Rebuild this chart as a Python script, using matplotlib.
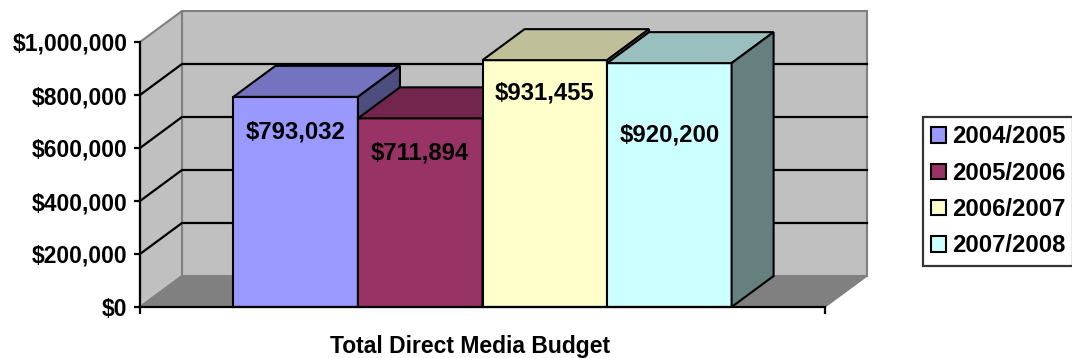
import matplotlib
matplotlib.use('Agg')
import matplotlib.pyplot as plt
from matplotlib.patches import Polygon, Patch
from matplotlib.ticker import FuncFormatter
import numpy as np

plt.rcParams['font.family'] = ['Liberation Sans', 'DejaVu Sans']
plt.rcParams['font.weight'] = 'bold'

seasons = ['2004/2005', '2005/2006', '2006/2007', '2007/2008']
budgets = [793032, 711894, 931455, 920200]
bar_colors = ['#9999FF', '#993366', '#FFFFCC', '#CCFFFF']
category = 'Total Direct Media Budget'
y_ticks = [0, 200000, 400000, 600000, 800000, 1000000]

# label drop below the top of each bar (value units)
label_drop = [133000, 131000, 124000, 271000]

FS = 16.5
FS_BIG = 17.2
W, H = 1072, 358
fig = plt.figure(figsize=(W / 100, H / 100), dpi=100)
ax = fig.add_axes([140 / W, (H - 307) / H, 685 / W, 265 / H])

x0, x1 = -0.75, len(budgets) - 1 + 1.75
y0, y1 = 0, 1000000
ax.set_xlim(x0, x1)
ax.set_ylim(y0, y1)
ax.patch.set_visible(False)

# depth of the 3-D box, in data units
DX = 42 / (685 / (x1 - x0))
DY = 31 / 265 * (y1 - y0)


def shade(c, f):
    r, g, b = matplotlib.colors.to_rgb(c)
    return (r * f, g * f, b * f)


def poly(pts, fc, ec, lw, z):
    ax.add_patch(Polygon(pts, closed=True, facecolor=fc, edgecolor=ec,
                         linewidth=lw, zorder=z, clip_on=False, joinstyle='miter'))


# walls and floor
poly([(x0 + DX, DY), (x1 + DX, DY), (x1 + DX, y1 + DY), (x0 + DX, y1 + DY)],
     '#C0C0C0', '#808080', 1.5, 0.5)
poly([(x0, y0), (x0 + DX, DY), (x0 + DX, y1 + DY), (x0, y1)],
     '#C0C0C0', '#808080', 1.5, 0.5)
poly([(x0, y0), (x1, y0), (x1 + DX, DY), (x0 + DX, DY)],
     '#808080', '#808080', 1.0, 0.6)

for t in y_ticks[1:-1]:
    ax.plot([x0, x0 + DX, x1 + DX], [t, t + DY, t + DY], color='black',
            lw=1.6, zorder=0.7, clip_on=False)

# bars: front, top, side
for i, (v, c) in enumerate(zip(budgets, bar_colors)):
    z = 3 + i
    poly([(i, 0), (i + 1, 0), (i + 1, v), (i, v)], c, 'black', 1.5, z)
    poly([(i, v), (i + 1, v), (i + 1 + DX, v + DY), (i + DX, v + DY)],
         shade(c, 0.75), 'black', 1.5, z)
    poly([(i + 1, 0), (i + 1 + DX, DY), (i + 1 + DX, v + DY), (i + 1, v)],
         shade(c, 0.5), 'black', 1.5, z)
    ax.text(i + 0.5, v - label_drop[i], '${:,}'.format(v), ha='center',
            va='center', fontsize=FS_BIG, fontweight='bold', zorder=10)

# axes
for s in ['top', 'right']:
    ax.spines[s].set_visible(False)
for s in ['left', 'bottom']:
    ax.spines[s].set_linewidth(1.6)
    ax.spines[s].set_zorder(8)
ax.set_yticks(y_ticks)
ax.yaxis.set_major_formatter(FuncFormatter(lambda v, p: '${:,.0f}'.format(v)))
ax.tick_params(axis='y', length=4, width=1.6, pad=5, labelsize=FS)
ax.set_xticks([x0, x1])
ax.set_xticklabels([])
ax.tick_params(axis='x', length=5, width=1.6)
for lab in ax.get_yticklabels():
    lab.set_fontweight('bold')

fig.text(470 / W, (H - 347) / H, category, ha='center', va='center',
         fontsize=FS, fontweight='bold')

handles = [Patch(facecolor=c, edgecolor='black', linewidth=1.5) for c in bar_colors]
leg = fig.legend(handles, seasons, loc='upper left',
                 bbox_to_anchor=(923 / W, (H - 117) / H), borderaxespad=0,
                 fancybox=False, frameon=True, handlelength=0.6,
                 handleheight=0.6, handletextpad=0.25, labelspacing=0.56,
                 borderpad=0.35, prop={'weight': 'bold', 'size': FS_BIG})
leg.get_frame().set_edgecolor('black')
leg.get_frame().set_linewidth(1.6)

fig.savefig('out.png', dpi=100)
